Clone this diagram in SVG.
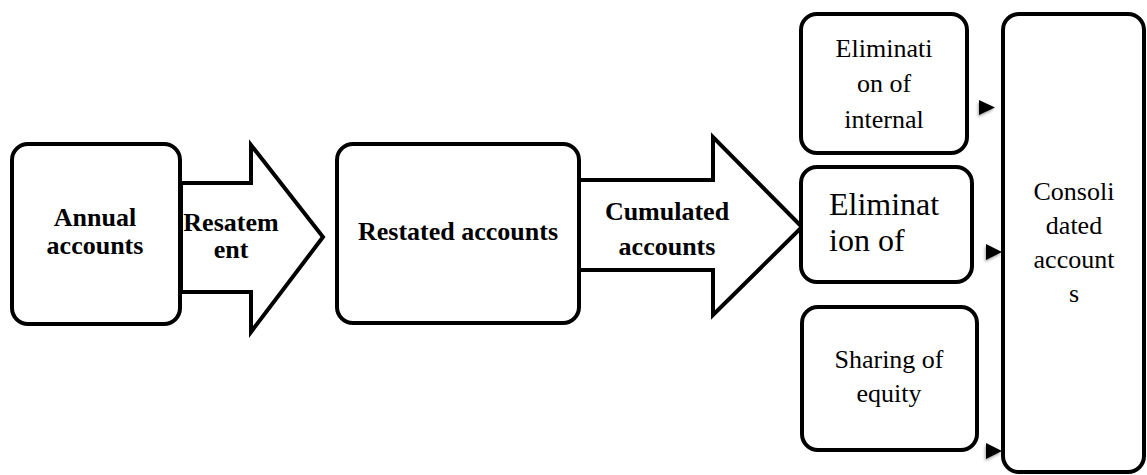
<svg xmlns="http://www.w3.org/2000/svg" width="1147" height="475" viewBox="0 0 1147 475">
<defs>
<style>
.box{fill:#fff;stroke:#000;stroke-width:4}
.arr{fill:#fff;stroke:#000;stroke-width:4;stroke-linejoin:miter}
text{font-family:'Liberation Serif','DejaVu Serif',serif;fill:#000}
.b{font-weight:bold;font-size:26px;text-anchor:middle}
.r{font-size:26px;text-anchor:middle}
.big{font-size:32px}
.tri{fill:#000}
</style>
<filter id="sh" x="-50%" y="-50%" width="200%" height="200%">
<feGaussianBlur in="SourceAlpha" stdDeviation="1.5"/>
<feOffset dx="-1" dy="2" result="o"/>
<feComponentTransfer><feFuncA type="linear" slope="0.35"/></feComponentTransfer>
<feMerge><feMergeNode/><feMergeNode in="SourceGraphic"/></feMerge>
</filter>
</defs>
<rect width="1147" height="475" fill="#fff"/>
<g id="arrow-resatement">
<path class="arr" d="M181,183 H251 V145 L323,237 L251,332 V292 H181 Z"/>
<text class="b" x="231" y="231" font-family="Liberation Serif">Resatem</text>
<text class="b" x="231" y="258" font-family="Liberation Serif">ent</text>
</g>
<g id="arrow-cumulated">
<path class="arr" d="M579,180 H713 V137 L802,227 L713,315 V270 H579 Z"/>
<text class="b" x="667" y="220">Cumulated</text>
<text class="b" x="667" y="255">accounts</text>
</g>
<g id="annual-accounts">
<rect class="box" x="12" y="144" width="168" height="180" rx="16"/>
<text class="b" x="95" y="226">Annual</text>
<text class="b" x="95" y="254">accounts</text>
</g>
<g id="restated-accounts">
<rect class="box" x="337" y="144" width="242" height="179" rx="16"/>
<text class="b" x="458" y="240">Restated accounts</text>
</g>
<g id="elimination-internal">
<rect class="box" x="801" y="14" width="166" height="139" rx="16"/>
<text class="r" x="884" y="57">Eliminati</text>
<text class="r" x="884" y="92">on of</text>
<text class="r" x="884" y="128">internal</text>
</g>
<g id="elimination-of">
<rect class="box" x="801" y="167" width="171" height="115" rx="16"/>
<text class="big" x="829" y="215">Eliminat</text>
<text class="big" x="829" y="251">ion of</text>
</g>
<g id="sharing-equity">
<rect class="box" x="802" y="307" width="175" height="143" rx="16"/>
<text class="r" x="889" y="368">Sharing of</text>
<text class="r" x="889" y="402">equity</text>
</g>
<g id="consolidated-accounts">
<rect class="box" x="1003" y="14" width="141" height="458" rx="16"/>
<text class="r" x="1074" y="200">Consoli</text>
<text class="r" x="1074" y="234">dated</text>
<text class="r" x="1074" y="268">account</text>
<text class="r" x="1074" y="302">s</text>
</g>
<g id="connectors" filter="url(#sh)">
<polygon class="tri" points="979,100 995,107.5 979,115"/>
<polygon class="tri" points="986,244 1002,252 986,260"/>
<polygon class="tri" points="986,443 1002,451 986,459"/>
</g>
</svg>
